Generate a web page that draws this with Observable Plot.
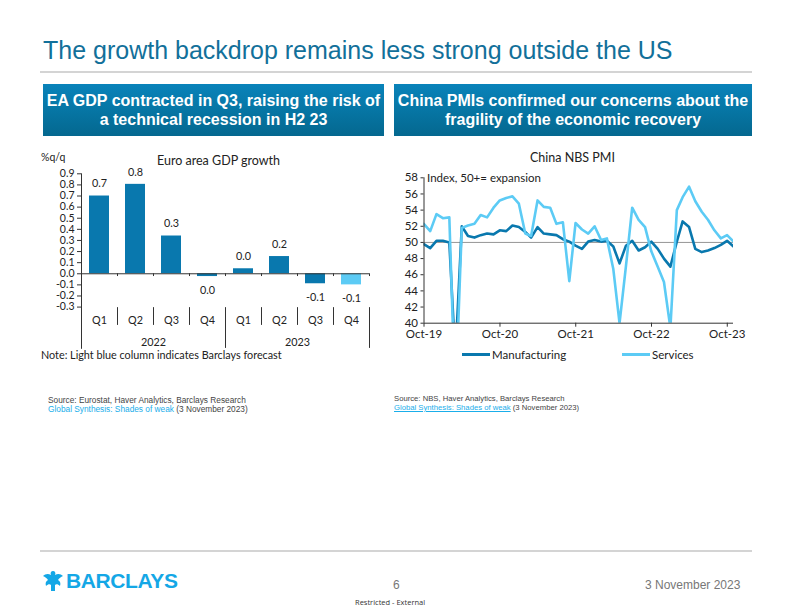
<!DOCTYPE html>
<html>
<head>
<meta charset="utf-8">
<script src="https://cdn.jsdelivr.net/npm/d3@7"></script>
<script src="https://cdn.jsdelivr.net/npm/@observablehq/plot@0.6"></script>
<style>
  html, body { margin: 0; padding: 0; background: #fff; }
  body { width: 792px; height: 612px; position: relative; overflow: hidden; font-family: "Liberation Sans", Arial, sans-serif; }
  .abs { position: absolute; white-space: nowrap; }
  .title { left: 43px; top: 36px; font-size: 25px; color: #12709A; }
  .rule { position: absolute; height: 2px; background: #d4d4d4; }
  .box { position: absolute; top: 84px; height: 52px; background: linear-gradient(#0983BA, #04688F); color: #fff;
         font-weight: bold; font-size: 16px; line-height: 19px; text-align: center; display: flex; align-items: center; justify-content: center; }
  .ctitle { font-family: Lato, sans-serif; font-size: 12.5px; color: #222; }
  .small { font-family: Lato, sans-serif; font-size: 10.5px; color: #222; }
  .src { color: #444; line-height: 9px; }
  .src a { color: #1AAEEA; text-decoration: none; }
  .legend { font-family: Lato, sans-serif; font-size: 11.5px; color: #222; display: flex; align-items: center; }
  .sw { display: inline-block; width: 28px; height: 3px; margin-right: 2px; }
</style>
</head>
<body>
<div class="abs title">The growth backdrop remains less strong outside the US</div>
<div class="rule" style="left:40px; top:71px; width:712px;"></div>

<div class="box" style="left:43px; width:341px;">EA GDP contracted in Q3, raising the risk of<br>a technical recession in H2 23</div>
<div class="box" style="left:394px; width:358px;">China PMIs confirmed our concerns about the<br>fragility of the economic recovery</div>

<div id="left" class="abs" style="left:40px; top:150px;"></div>
<div id="right" class="abs" style="left:390px; top:165px;"></div>

<div class="abs ctitle" style="left:157px; top:153px;">Euro area GDP growth</div>
<div class="abs small" style="left:41px; top:151px;">%q/q</div>
<div class="abs small" style="left:41px; top:348px; font-size:10.8px;">Note: Light blue column indicates Barclays forecast</div>

<div class="abs ctitle" style="left:530px; top:150px;">China NBS PMI</div>
<div class="abs legend" style="left:462px; top:348px;"><span class="sw" style="background:#0978AE"></span>Manufacturing</div>
<div class="abs legend" style="left:622px; top:348px;"><span class="sw" style="background:#5CCBF5"></span>Services</div>

<div class="abs src" style="left:48px; top:396px; font-size:8.3px;">Source: Eurostat, Haver Analytics, Barclays Research<br><a>Global Synthesis: Shades of weak</a> (3 November 2023)</div>
<div class="abs src" style="left:394px; top:394px; font-size:7.7px;">Source: NBS, Haver Analytics, Barclays Research<br><a style="text-decoration:underline">Global Synthesis: Shades of weak</a> (3 November 2023)</div>

<div class="rule" style="left:40px; top:550px; width:712px;"></div>
<div class="abs" style="left:42px; top:569px; display:flex; align-items:center;">
  <svg width="22" height="24" viewBox="0 0 22 22">
    <path d="M11 1 C9 1 8 3 9 5 C6 3 3 4 1 6 C3 7 5 8 6 10 C4 11 3 13 4 16 C6 14 8 14 9 15 L9 21 L13 21 L13 15 C14 14 16 14 18 16 C19 13 18 11 16 10 C17 8 19 7 21 6 C19 4 16 3 13 5 C14 3 13 1 11 1 Z" fill="#14A7E6"/>
  </svg>
  <span style="font-family:'Liberation Sans',Arial; font-weight:bold; font-size:21px; color:#14A7E6; margin-left:2px; letter-spacing:-0.4px;">BARCLAYS</span>
</div>
<div class="abs" style="left:393px; top:578px; font-size:12px; color:#777;">6</div>
<div class="abs" style="left:645px; top:578px; font-size:12px; color:#777;">3 November 2023</div>
<div class="abs" style="left:355px; top:597px; font-family:'Open Sans',sans-serif; font-size:7.5px; color:#333;">Restricted - External</div>

<script>
// ---------- Left chart data ----------
const quarters = ["Q1", "Q2", "Q3", "Q4", "Q1", "Q2", "Q3", "Q4"];
const years = ["2022", "2022", "2022", "2022", "2023", "2023", "2023", "2023"];
const gdpGrowth = [0.70, 0.805, 0.34, -0.025, 0.045, 0.155, -0.09, -0.10];
const gdpLabels = ["0.7", "0.8", "0.3", "0.0", "0.0", "0.2", "-0.1", "-0.1"];
const isForecast = [false, false, false, false, false, false, false, true];
const gdpTicks = [-0.3, -0.2, -0.1, 0, 0.1, 0.2, 0.3, 0.4, 0.5, 0.6, 0.7, 0.8, 0.9];

// ---------- Right chart data (monthly, Sep-19 .. Oct-23) ----------
const pmiStart = [2019, 9]; // year, month (1-based) of first observation
const manufacturing = [49.8, 49.3, 50.2, 50.2,
  50.0, 35.7, 52.0, 50.8, 50.6, 50.9, 51.1, 51.0, 51.5, 51.4, 52.1, 51.9,
  51.3, 50.6, 51.9, 51.1, 51.0, 50.9, 50.4, 50.1, 49.6, 49.2, 50.1, 50.3,
  50.1, 50.2, 49.5, 47.4, 49.6, 50.2, 49.0, 49.4, 50.1, 49.2, 48.0, 47.0,
  50.1, 52.6, 51.9, 49.2, 48.8, 49.0, 49.3, 49.7, 50.2, 49.5];
const services = [52.3, 51.4, 53.5, 53.0,
  53.1, 30.1, 51.8, 52.1, 52.3, 53.4, 53.1, 54.3, 55.2, 55.5, 55.7, 54.8,
  51.1, 50.8, 55.2, 54.4, 54.3, 52.3, 52.5, 45.2, 52.4, 51.6, 51.1, 52.0,
  50.3, 50.5, 46.7, 40.0, 47.1, 54.3, 52.8, 51.9, 48.9, 47.0, 45.1, 39.4,
  54.0, 55.6, 56.9, 55.1, 53.8, 52.8, 51.5, 50.5, 50.9, 50.1];
const pmiTickLabels = ["Oct-19", "Oct-20", "Oct-21", "Oct-22", "Oct-23"];
const pmiYTicks = [40, 42, 44, 46, 48, 50, 52, 54, 56, 58];

const dark = "#0978AE", light = "#5CCBF5";

// ----- Left chart -----
const bars = gdpGrowth.map((v, i) => ({i, v, label: gdpLabels[i], q: quarters[i], year: years[i], f: isForecast[i]}));
const yearBounds = [0];
const quarterBounds = [];
for (let i = 1; i < years.length; i++) (years[i] !== years[i - 1] ? yearBounds : quarterBounds).push(i);
yearBounds.push(years.length);
const yearGroups = Array.from(d3.group(bars, d => d.year), ([year, rows]) => ({year, mid: d3.mean(rows, r => r.i) + 0.5}));

const left = Plot.plot({
  width: 340, height: 202,
  marginLeft: 41, marginRight: 11, marginTop: 23.3, marginBottom: 3.2,
  x: {domain: [0, quarters.length], axis: null},
  y: {domain: [-0.68, 0.9], axis: null},
  style: {background: "transparent", fontFamily: "Lato, sans-serif", fontSize: "10.5px", color: "#222"},
  marks: [
    Plot.rect(bars, {x1: "i", x2: d => d.i + 1, y1: 0, y2: "v", fill: d => d.f ? light : dark, insetLeft: 8, insetRight: 8}),
    Plot.text(bars.filter(d => d.v >= 0), {x: d => d.i + 0.5, y: "v", text: "label", dy: -12, fontSize: 10.8, fill: "#222"}),
    Plot.text(bars.filter(d => d.v < 0), {x: d => d.i + 0.5, y: "v", text: "label", dy: 14, fontSize: 10.8, fill: "#222"}),
    Plot.ruleY([0], {stroke: "#333", strokeWidth: 1}),
    Plot.ruleX(d3.range(1, quarters.length + 1), {y1: 0, y2: -0.025, stroke: "#333"}),
    Plot.ruleX([0], {y1: -0.68, y2: 0.9, stroke: "#333"}),
    Plot.ruleX(quarterBounds, {y1: -0.305, y2: -0.465, stroke: "#333"}),
    Plot.ruleX(yearBounds.slice(1), {y1: -0.305, y2: -0.672, stroke: "#333"}),
    Plot.axisY(gdpTicks, {tickSize: 4, tickPadding: 3, tickFormat: d => d.toFixed(1), stroke: "#333", fontSize: 10.5, label: null}),
    Plot.text(bars, {x: d => d.i + 0.5, y: -0.42, text: "q", fontSize: 10.8, fill: "#222"}),
    Plot.text(yearGroups, {x: "mid", y: -0.615, text: "year", fontSize: 10.8, fill: "#222"})
  ]
});
document.getElementById("left").appendChild(left);

// ----- Right chart -----
const monthEnd = k => new Date(Date.UTC(pmiStart[0], pmiStart[1] - 1 + k + 1, 0));
const pmi = [];
manufacturing.forEach((v, k) => pmi.push({date: monthEnd(k), value: v, series: "Manufacturing"}));
services.forEach((v, k) => pmi.push({date: monthEnd(k), value: v, series: "Services"}));
const parseTick = d3.utcParse("%b-%y");
const xTicks = pmiTickLabels.map(parseTick);
const lastDate = monthEnd(manufacturing.length - 1);

const right = Plot.plot({
  width: 360, height: 185,
  marginLeft: 33.5, marginRight: 17, marginTop: 12.3, marginBottom: 27.3,
  x: {type: "utc", domain: [xTicks[0], lastDate], axis: null},
  y: {domain: [40, 58], axis: null},
  style: {background: "transparent", fontFamily: "Lato, sans-serif", fontSize: "11.5px", color: "#222"},
  marks: [
    Plot.ruleY([50], {stroke: "#8a8a8a", strokeWidth: 0.9}),
    Plot.line(pmi.filter(d => d.series === "Manufacturing"), {x: "date", y: "value", stroke: dark, strokeWidth: 2.6, clip: true}),
    Plot.line(pmi.filter(d => d.series === "Services"), {x: "date", y: "value", stroke: light, strokeWidth: 2.6, clip: true}),
    Plot.ruleX([xTicks[0]], {y1: 40, y2: 58, stroke: "#333"}),
    Plot.ruleY([40], {stroke: "#333"}),
    Plot.axisY(pmiYTicks, {tickSize: 3, tickPadding: 3, stroke: "#333", fontSize: 11.5, label: null}),
    Plot.axisX(xTicks, {tickSize: 4, tickPadding: 3, tickFormat: (d, i) => pmiTickLabels[i], stroke: "#333", fontSize: 11.5, label: null}),
    Plot.text(["Index, 50+= expansion"], {frameAnchor: "top-left", lineAnchor: "middle", dx: 3, dy: 1, fontSize: 11.5, fill: "#222"})
  ]
});
document.getElementById("right").appendChild(right);
</script>
</body>
</html>
